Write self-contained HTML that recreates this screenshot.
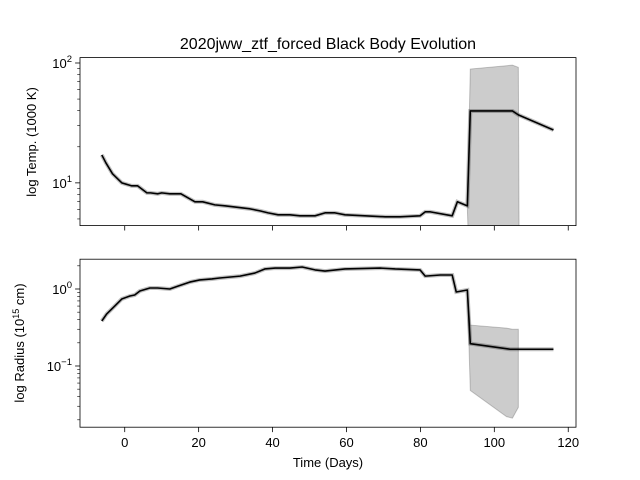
<!DOCTYPE html>
<html><head><meta charset="utf-8"><style>body{margin:0;background:#fff}svg{display:block}text{font-family:"Liberation Sans","DejaVu Sans",sans-serif;fill:#000}</style></head>
<body>
<svg id="chart" width="640" height="480" xmlns="http://www.w3.org/2000/svg">
<text x="328" y="49" font-size="16" text-anchor="middle">2020jww_ztf_forced Black Body Evolution</text>
<text transform="translate(36,142) rotate(-90)" font-size="13" text-anchor="middle">log Temp. (1000 K)</text>
<text transform="translate(24,343) rotate(-90)" font-size="13" text-anchor="middle">log Radius (10<tspan dy="-5" font-size="9">15</tspan><tspan dy="5"> cm)</tspan></text>
<text x="328" y="467" font-size="13" text-anchor="middle">Time (Days)</text>
<g id="g"></g>
</svg>
<script>
const tDays=[-6.2,-5.1,-3.3,-0.8,1.9,3.5,6.0,7.0,8.9,10.0,12.2,15.2,19.0,21.1,24.4,27.1,33.9,36.6,38.8,41.5,44.7,47.4,51.5,54.2,56.9,59.6,65.0,70.5,74.5,79.9,81.3,82.7,88.6,90.0,92.7,93.5,104.9,106.5,116];
const tVals=[17.1,14.7,11.9,10,9.44,9.44,8.25,8.25,8.1,8.25,8.1,8.1,6.95,6.95,6.55,6.43,6.07,5.84,5.62,5.41,5.41,5.31,5.31,5.62,5.62,5.41,5.31,5.21,5.21,5.31,5.73,5.73,5.31,6.95,6.43,39.8,39.8,36.9,27.6];
const tBandDays=[92.7,93.5,104.9,106.5,106.8];
const tBandHi=[6.6,89,96,92,1];
const tBandLo=[6.2,1,1,1,1];
const rDays=[-6.2,-4.9,-2.7,-0.8,1.4,2.7,4.1,6.8,7.6,8.9,12.2,14.4,17.6,20.3,23.6,25.7,31.2,35.2,37.9,40.7,44.7,48.0,51.5,54.2,59.6,69.1,73.2,79.9,81.3,85.4,88.6,89.7,92.7,93.5,104.3,116];
const rVals=[0.384,0.473,0.601,0.741,0.811,0.836,0.942,1.03,1.03,1.03,1.0,1.09,1.23,1.31,1.35,1.39,1.47,1.61,1.82,1.87,1.87,1.93,1.77,1.71,1.82,1.87,1.82,1.77,1.47,1.52,1.52,0.914,0.97,0.195,0.165,0.165];
const rBandDays=[92.7,93.5,103.3,104.9,106.5];
const rBandHi=[1.0,0.34,0.31,0.30,0.30];
const rBandLo=[0.94,0.048,0.022,0.021,0.029];
const xTicks=[0,20,40,60,80,100,120];

const NS="http://www.w3.org/2000/svg";
const g=document.getElementById('g');
function el(t,a,p){const e=document.createElementNS(NS,t);for(const k in a)e.setAttribute(k,a[k]);(p||g).appendChild(e);return e;}
const L=80,R=576,X0=-12.1,X1=122.1;
const x=d=>L+(d-X0)/(X1-X0)*(R-L);
function mkY(top,bot,l0,l1){return v=>bot-(Math.log10(v)-l0)/(l1-l0)*(bot-top);}
const axes=[
 {top:57.6,bot:225.6,l0:Math.log10(4.4),l1:2.045,d:tDays,v:tVals,bd:tBandDays,bh:tBandHi,bl:tBandLo,name:'temperature'},
 {top:259.2,bot:427.2,l0:-1.795,l1:0.387,d:rDays,v:rVals,bd:rBandDays,bh:rBandHi,bl:rBandLo,name:'radius'}
];
axes.forEach((A,i)=>{
 const y=mkY(A.top,A.bot,A.l0,A.l1);
 const grp=el('g',{});
 
 
 const cp=el('clipPath',{id:'c'+i},grp);el('rect',{x:L,y:A.top,width:R-L,height:A.bot-A.top},cp);
 let pts=A.bd.map((d,k)=>x(d)+','+y(A.bh[k]));
 for(let k=A.bd.length-1;k>=0;k--)pts.push(x(A.bd[k])+','+y(A.bl[k]));
 const band=el('polygon',{points:pts.join(' '),fill:'#000','fill-opacity':0.2,stroke:'#000','stroke-opacity':0.2,'clip-path':'url(#c'+i+')'},grp);
 
 
 const lp=A.d.map((d,k)=>x(d)+','+y(A.v[k])).join(' ');
 el('polyline',{points:lp,fill:'none',stroke:'#000','stroke-opacity':0.25,'stroke-width':4,'clip-path':'url(#c'+i+')'},grp);
 const line=el('polyline',{points:lp,fill:'none',stroke:'#000','stroke-width':1.6,'stroke-linejoin':'round','clip-path':'url(#c'+i+')'},grp);
 
 
 el('rect',{x:L,y:A.top,width:R-L,height:A.bot-A.top,fill:'none',stroke:'#000','stroke-width':0.8},grp);
 xTicks.forEach(t=>{el('line',{x1:x(t),x2:x(t),y1:A.bot,y2:A.bot+4.9,stroke:'#000','stroke-width':0.8},grp);
  if(i==1){const tx=el('text',{x:x(t),y:A.bot+20,'font-size':13,'text-anchor':'middle'},grp);tx.textContent=t;
   
   }});
 for(let e=Math.floor(A.l0);e<=Math.ceil(A.l1);e++){for(let m=1;m<10;m++){const lv=e+Math.log10(m);if(lv<A.l0||lv>A.l1)continue;const yy=y(Math.pow(10,lv));
  el('line',{x1:L,x2:L-(m==1?4.9:2.8),y1:yy,y2:yy,stroke:'#000','stroke-width':m==1?0.8:0.6},grp);
  if(m==1){const tx=el('text',{x:L-8,y:yy+5,'font-size':13,'text-anchor':'end'},grp);tx.innerHTML='10<tspan dy="-6" font-size="9.5">'+(e<0?'\u2212'+(-e):e)+'</tspan>';
   
   }}}
});
</script>
</body></html>
